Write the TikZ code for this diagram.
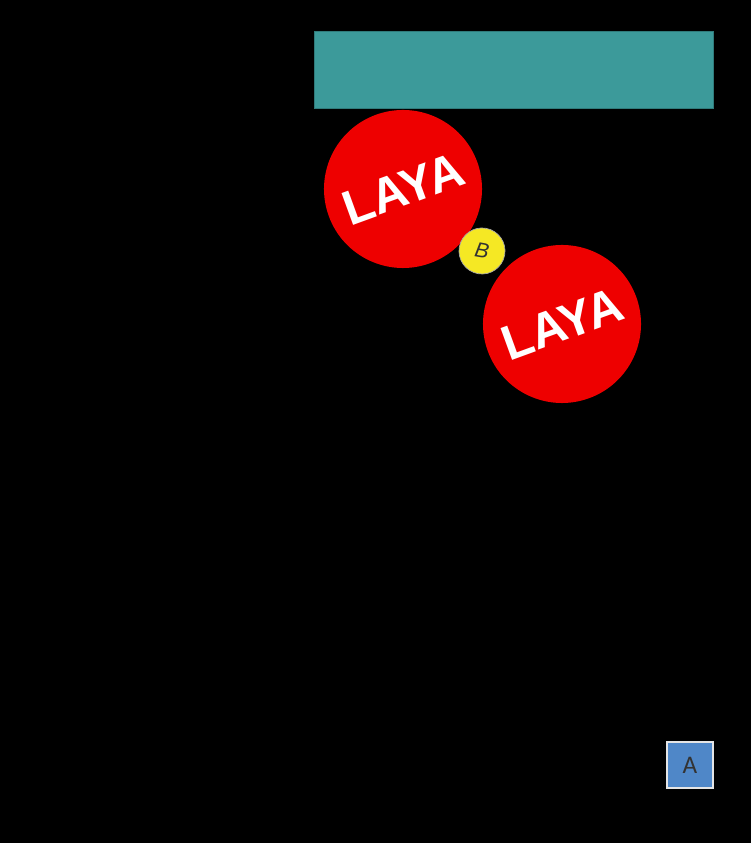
\documentclass[tikz,border=0pt]{standalone}
\usepackage{fontspec}
\setmainfont{Carlito}
\newfontfamily\layafont{Liberation Sans}
\definecolor{tealbar}{HTML}{3C9A9A}
\definecolor{layared}{HTML}{EE0000}
\definecolor{ballyellow}{HTML}{F5E824}
\definecolor{boxblue}{HTML}{4F87C8}
\tikzset{
    laya/.style={circle, fill=layared, minimum size=3.16cm, inner sep=0pt, rotate=20,
        text=white, font=\layafont\fontsize{28}{28}\selectfont\bfseries}
}
\begin{document}
\begin{tikzpicture}
    \fill[black] (0,0) rectangle (15.02,16.86);
    \node[rectangle, fill=tealbar, draw=tealbar!80!black, minimum width=7.98cm, minimum height=1.54cm] (bar) at (10.27,15.47) {};
    \node[laya] (top) at (8.06,13.08) {LAYA};
    \node[laya] (bottom) at (11.24,10.38) {LAYA};
    \node[circle, fill=ballyellow, draw=gray!70, minimum size=0.92cm, inner sep=0pt, rotate=-10, text=black!80, font=\layafont\large\itshape] (ball) at (9.64,11.84) {B};
    \node[rectangle, fill=boxblue, draw=gray!20, line width=0.8pt, minimum size=0.92cm, inner sep=0pt, text=black!80, font=\Large] (box) at (13.8,1.56) {A};
\end{tikzpicture}
\end{document}
